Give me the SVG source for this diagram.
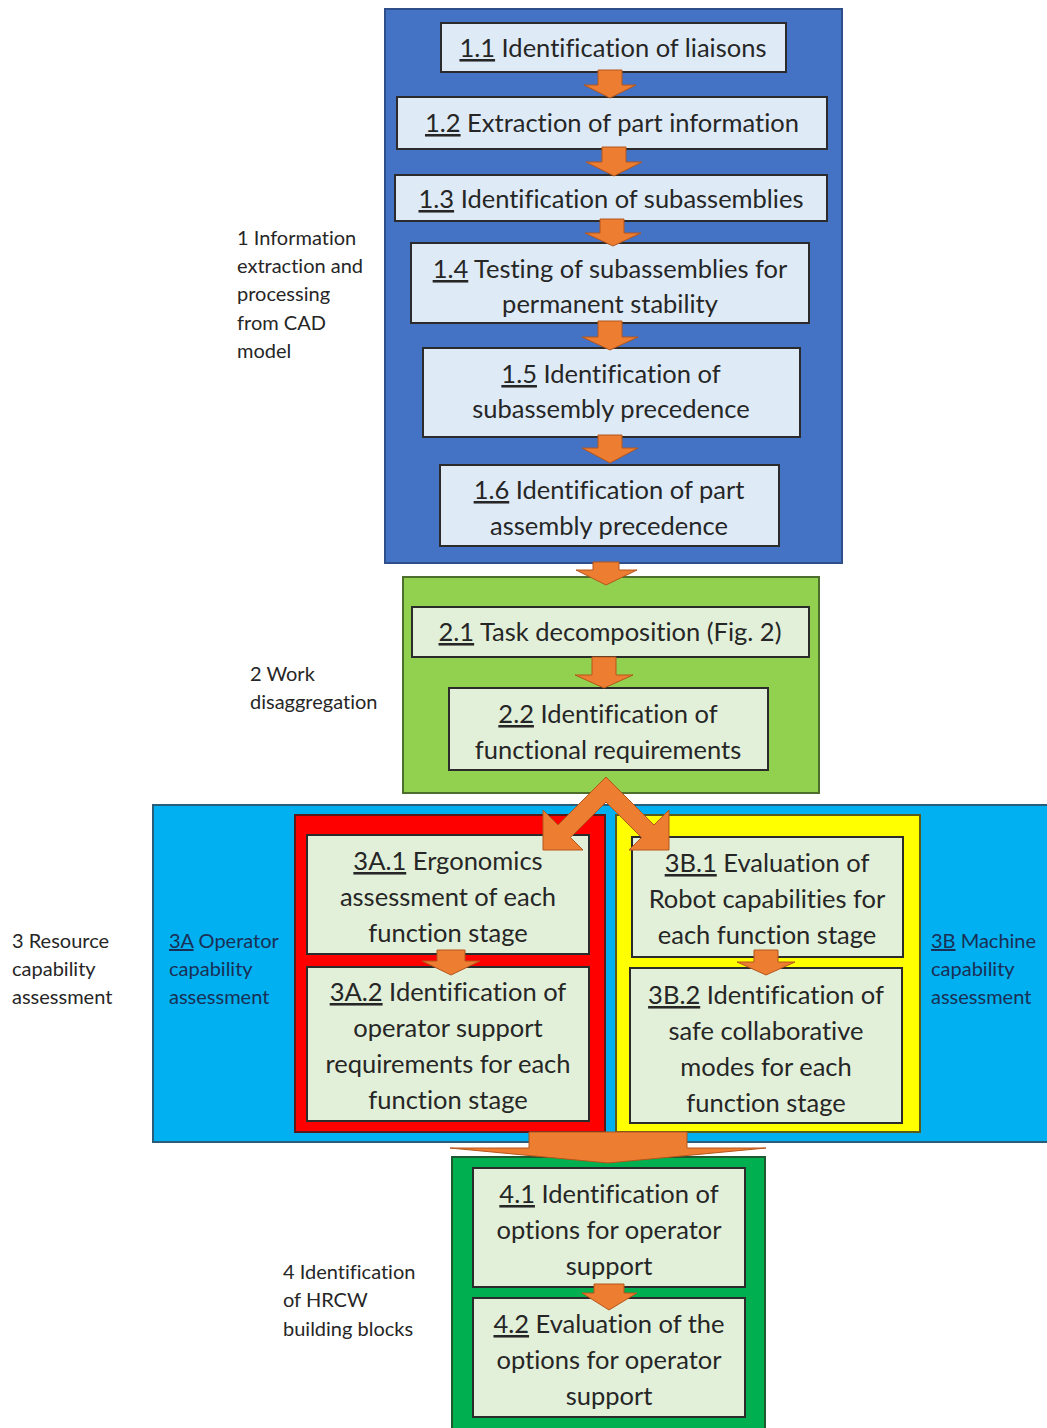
<svg xmlns="http://www.w3.org/2000/svg" width="1047" height="1428" viewBox="0 0 1047 1428">
  <style>
    .bg { fill: #ffffff; }
    .c1 { fill: #4472C4; stroke: #2F4F8A; stroke-width: 2; }
    .c2 { fill: #92D050; stroke: #4E6E2E; stroke-width: 2; }
    .c3 { fill: #00B0F0; stroke: #2A5D7A; stroke-width: 2; }
    .cr { fill: #FF0000; stroke: #5A1A1A; stroke-width: 2; }
    .cy { fill: #FFFF00; stroke: #5A5A1A; stroke-width: 2; }
    .c4 { fill: #00B050; stroke: #1E5A30; stroke-width: 2; }
    .bb { fill: #DEEBF7; stroke: #2B2B2B; stroke-width: 2; }
    .bg2 { fill: #E2F0D9; stroke: #2B2B2B; stroke-width: 2; }
    .arr { fill: #ED7D31; stroke: #B4561C; stroke-width: 1; stroke-linejoin: miter; }
    text { font-variant-ligatures: none; }
    .t { font-family: Lato, "Open Sans", "Liberation Sans", sans-serif; font-size: 25.5px; fill: #262626; text-anchor: middle; }
    .lbl { font-family: Lato, "Open Sans", "Liberation Sans", sans-serif; font-size: 20px; fill: #262626; }
    .lbl3 { font-family: Lato, "Open Sans", "Liberation Sans", sans-serif; font-size: 20px; fill: #1A2F55; }
    .u { text-decoration: underline; }
  </style>

  <rect class="bg" x="0" y="0" width="1047" height="1428"/>

  <!-- Stage containers -->
  <g id="stage1">
    <rect class="c1" x="385" y="9" width="457" height="554"/>
  </g>
  <g id="stage2">
    <rect class="c2" x="403" y="577" width="416" height="216"/>
  </g>
  <g id="stage3">
    <rect class="c3" x="153" y="805" width="900" height="337"/>
  </g>
  <g id="stage3A">
    <rect class="cr" x="295" y="815" width="310" height="317"/>
  </g>
  <g id="stage3B">
    <rect class="cy" x="616" y="815" width="304" height="317"/>
  </g>
  <g id="stage4">
    <rect class="c4" x="452" y="1157" width="313" height="280"/>
  </g>

  <!-- Step boxes -->
  <g id="n1_1">
    <rect class="bb" x="441" y="23" width="345" height="49"/>
    <text class="t" x="613" y="57"><tspan class="u">1.1</tspan> Identification of liaisons</text>
  </g>
  <g id="n1_2">
    <rect class="bb" x="397" y="97" width="430" height="52"/>
    <text class="t" x="612" y="132"><tspan class="u">1.2</tspan> Extraction of part information</text>
  </g>
  <g id="n1_3">
    <rect class="bb" x="395" y="175" width="432" height="46"/>
    <text class="t" x="611" y="208"><tspan class="u">1.3</tspan> Identification of subassemblies</text>
  </g>
  <g id="n1_4">
    <rect class="bb" x="411" y="243" width="398" height="80"/>
    <text class="t" x="610" y="278"><tspan class="u">1.4</tspan> Testing of subassemblies for</text>
    <text class="t" x="610" y="313">permanent stability</text>
  </g>
  <g id="n1_5">
    <rect class="bb" x="423" y="348" width="377" height="89"/>
    <text class="t" x="611" y="383"><tspan class="u">1.5</tspan> Identification of</text>
    <text class="t" x="611" y="418">subassembly precedence</text>
  </g>
  <g id="n1_6">
    <rect class="bb" x="440" y="465" width="339" height="81"/>
    <text class="t" x="609" y="499"><tspan class="u">1.6</tspan> Identification of part</text>
    <text class="t" x="609" y="535">assembly precedence</text>
  </g>

  <g id="n2_1">
    <rect class="bg2" x="412" y="607" width="397" height="50"/>
    <text class="t" x="610" y="641"><tspan class="u">2.1</tspan> Task decomposition (Fig. 2)</text>
  </g>
  <g id="n2_2">
    <rect class="bg2" x="449" y="688" width="319" height="82"/>
    <text class="t" x="608" y="723"><tspan class="u">2.2</tspan> Identification of</text>
    <text class="t" x="608" y="759">functional requirements</text>
  </g>

  <g id="n3A_1">
    <rect class="bg2" x="307" y="835" width="282" height="119"/>
    <text class="t" x="448" y="870"><tspan class="u">3A.1</tspan> Ergonomics</text>
    <text class="t" x="448" y="906">assessment of each</text>
    <text class="t" x="448" y="942">function stage</text>
  </g>
  <g id="n3A_2">
    <rect class="bg2" x="307" y="967" width="282" height="154"/>
    <text class="t" x="448" y="1001"><tspan class="u">3A.2</tspan> Identification of</text>
    <text class="t" x="448" y="1037">operator support</text>
    <text class="t" x="448" y="1073">requirements for each</text>
    <text class="t" x="448" y="1109">function stage</text>
  </g>
  <g id="n3B_1">
    <rect class="bg2" x="632" y="837" width="271" height="120"/>
    <text class="t" x="767" y="872"><tspan class="u">3B.1</tspan> Evaluation of</text>
    <text class="t" x="767" y="908">Robot capabilities for</text>
    <text class="t" x="767" y="944">each function stage</text>
  </g>
  <g id="n3B_2">
    <rect class="bg2" x="630" y="968" width="272" height="155"/>
    <text class="t" x="766" y="1004"><tspan class="u">3B.2</tspan> Identification of</text>
    <text class="t" x="766" y="1040">safe collaborative</text>
    <text class="t" x="766" y="1076">modes for each</text>
    <text class="t" x="766" y="1112">function stage</text>
  </g>

  <g id="n4_1">
    <rect class="bg2" x="473" y="1168" width="272" height="119"/>
    <text class="t" x="609" y="1203"><tspan class="u">4.1</tspan> Identification of</text>
    <text class="t" x="609" y="1239">options for operator</text>
    <text class="t" x="609" y="1275">support</text>
  </g>
  <g id="n4_2">
    <rect class="bg2" x="473" y="1298" width="272" height="119"/>
    <text class="t" x="609" y="1333"><tspan class="u">4.2</tspan> Evaluation of the</text>
    <text class="t" x="609" y="1369">options for operator</text>
    <text class="t" x="609" y="1405">support</text>
  </g>

  <!-- Stage labels -->
  <g id="label1">
    <text class="lbl" x="237" y="245">1 Information</text>
    <text class="lbl" x="237" y="273">extraction and</text>
    <text class="lbl" x="237" y="301">processing</text>
    <text class="lbl" x="237" y="330">from CAD</text>
    <text class="lbl" x="237" y="358">model</text>
  </g>
  <g id="label2">
    <text class="lbl" x="250" y="681">2 Work</text>
    <text class="lbl" x="250" y="709">disaggregation</text>
  </g>
  <g id="label3">
    <text class="lbl" x="12" y="948">3 Resource</text>
    <text class="lbl" x="12" y="976">capability</text>
    <text class="lbl" x="12" y="1004">assessment</text>
  </g>
  <g id="label3A">
    <text class="lbl3" x="169" y="948"><tspan class="u">3A</tspan> Operator</text>
    <text class="lbl3" x="169" y="976">capability</text>
    <text class="lbl3" x="169" y="1004">assessment</text>
  </g>
  <g id="label3B">
    <text class="lbl3" x="931" y="948"><tspan class="u">3B</tspan> Machine</text>
    <text class="lbl3" x="931" y="976">capability</text>
    <text class="lbl3" x="931" y="1004">assessment</text>
  </g>
  <g id="label4">
    <text class="lbl" x="283" y="1279">4 Identification</text>
    <text class="lbl" x="283" y="1307">of HRCW</text>
    <text class="lbl" x="283" y="1336">building blocks</text>
  </g>

  <!-- Connectors: block arrows between steps -->
  <g id="connectors">
    <polygon class="arr" points="598,70 622,70 622,85 636,85 610,98 584,85 598,85"/>
    <polygon class="arr" points="602,147 626,147 626,162 642,162 614,176 586,162 602,162"/>
    <polygon class="arr" points="600,219 624,219 624,233 641,233 613,246 585,233 600,233"/>
    <polygon class="arr" points="598,321 622,321 622,337 638,337 610,350 582,337 598,337"/>
    <polygon class="arr" points="598,435 622,435 622,448 638,448 610,463 582,448 598,448"/>
    <polygon class="arr" points="593,562 619,562 619,570 637,570 606,585 576,570 593,570"/>
    <polygon class="arr" points="592,657 616,657 616,675 633,675 604,688 575,675 592,675"/>
    <polygon class="arr" points="437,950 465,950 465,961 480,961 451,975 422,961 437,961"/>
    <polygon class="arr" points="754,950 778,950 778,962 795,962 766,975 737,962 754,962"/>
    <polygon class="arr" points="594,1284 624,1284 624,1293 637,1293 609,1310 582,1293 594,1293"/>
    <!-- split arrow from stage 2 into 3A and 3B -->
    <polygon class="arr" points="606,777 558,825 543,810 543,850 583,850 570.5,837.5 606,802 641.5,837.5 629,850 669,850 669,810 654,825"/>
    <!-- merge arrow from stage 3 into stage 4 -->
    <polygon class="arr" points="529,1132 687,1132 687,1148 766,1148 608,1163 450,1148 529,1148"/>
  </g>
</svg>
